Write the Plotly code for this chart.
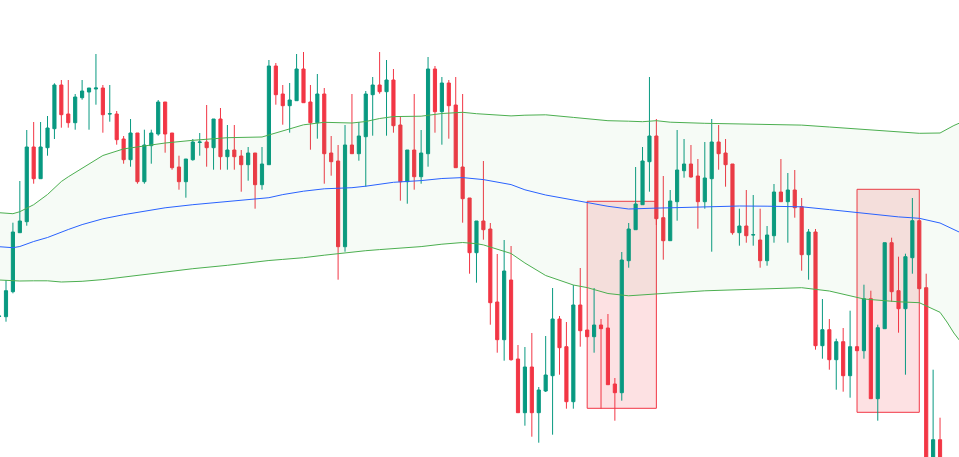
import plotly.graph_objects as go

# candle index -> one bar per slot
candle_idx = list(range(137))

opens = [
    183.5, 183.3, 208.3, 267.3, 278.3, 353, 321.3, 352.3, 371.3, 415,
    386, 377.3, 402.3, 408, 411, 412, 386, 386, 361, 340.3,
    367, 318.3, 354.3, 366, 398, 367, 333, 318.3, 340.3, 357.5,
    358, 352.3, 381, 343.3, 350, 344, 335.3, 347, 315.3, 335.3,
    434, 406, 394.3, 399.3, 431, 398, 377.3, 406, 347, 339,
    253.3, 355, 346.3, 363.3, 405.3, 415, 408.3, 420, 375, 318.3,
    350, 323.3, 346.3, 431, 388.3, 417, 395, 333, 302, 247.3,
    279, 271, 198, 160.3, 220, 141, 87.3, 133, 87.3, 109,
    124.3, 181, 153.3, 98.3, 195, 170, 163.3, 175, 172, 116,
    107.3, 239.3, 270.3, 295.3, 338.3, 364, 282.3, 259.3, 298.3, 329.3,
    336, 324, 298.3, 321.3, 358, 347, 336, 267.3, 274, 265,
    260, 239.3, 264.3, 308, 298.3, 310, 293.3, 245.3, 268, 154.3,
    170.3, 140.3, 158.3, 124.3, 153.3, 149.3, 201.3, 101.3, 171.3, 257.3,
    209.3, 191.3, 242.3, 279.3, 212.3, 30, 60.3,
]
highs = [
    185, 220, 277.3, 319, 370, 378, 378, 384, 416.7, 420,
    420, 406, 420, 412, 446, 415, 415, 389, 364, 381,
    367, 370.3, 370.3, 400, 398, 367, 344.3, 341, 361, 367,
    395, 381, 392, 375, 375, 350, 353, 347, 353, 440,
    437, 415, 417, 446, 448, 415, 426, 412, 364, 355,
    375, 406, 378, 409, 423, 448, 440, 431, 384, 350,
    406, 370, 443, 434, 423, 420, 423, 406, 302, 279,
    339, 277, 246, 260, 254, 155, 153, 167, 113, 164,
    212, 184, 178, 215, 232, 170, 212, 181, 186, 122,
    248, 277, 333, 353, 423, 381, 324, 310, 370, 361,
    355, 341, 358, 381, 375, 361, 336, 291.3, 310, 305,
    291.3, 274, 316, 341, 327, 330, 302, 271, 271, 201,
    181, 161.3, 172, 189.3, 154, 215.3, 209.3, 175.3, 257.3, 262.3,
    243.3, 246.3, 302, 279.3, 226.3, 130.3, 82.3,
]
lows = [
    183, 178.3, 206.7, 267.3, 274.3, 316.3, 321.3, 344.3, 361, 372.3,
    372.3, 370.3, 400.3, 370.3, 395.3, 367.3, 378.3, 355.3, 336.3, 333.3,
    316.3, 316.3, 336.3, 364.3, 347.3, 330.3, 310.3, 302.3, 339.3, 344.3,
    333.3, 330.3, 330.3, 330.3, 330.3, 308.3, 319.3, 291.3, 310.3, 335.3,
    395.3, 375.3, 367.3, 399.3, 397.3, 350.3, 361.3, 316.3, 324.3, 220.3,
    248.3, 346.3, 339.3, 313.3, 364.3, 406.3, 364.3, 367.3, 299.3, 296.3,
    310.3, 316.3, 333.3, 367.3, 355.3, 361.3, 332.3, 277.3, 226.3, 217.3,
    260.3, 175.3, 147.3, 139.3, 139.3, 87.3, 74.3, 63.3, 57.3, 108,
    65.3, 125.3, 91.3, 91.3, 153.3, 163.3, 147.3, 91.3, 115.3, 79.3,
    99.3, 232.3, 270.3, 295.3, 308.3, 275, 240.3, 259.3, 279.3, 322.3,
    322.3, 271.3, 291.3, 248.3, 330.3, 313.3, 265.3, 254.3, 257.3, 254.3,
    232.3, 234.3, 257.3, 298.3, 257.3, 282.3, 229.3, 220.3, 150.3, 141.3,
    130.3, 110.3, 108.3, 102.3, 149, 141.3, 101.3, 79.3, 171.3, 198.3,
    167.3, 125.3, 226.3, 211.3, 25, 25, 15,
]
closes = [
    184, 209.3, 268, 279, 353, 321.3, 353, 372, 415, 385.3,
    377.3, 403, 409, 412, 412, 385.3, 386.3, 360.3, 340.3, 367,
    318.3, 355, 367, 398, 366, 332.3, 318.3, 341, 358, 358,
    352.3, 381, 343.3, 350, 343.3, 335.3, 347, 315.3, 336, 434,
    405.3, 394.3, 400, 431, 397.3, 377.3, 406, 346.3, 338.3, 253.3,
    355, 346.3, 364, 406, 415, 408.3, 420, 374.3, 318.3, 350,
    323.3, 347, 431, 388.3, 417, 394.3, 332.3, 301.3, 247.3, 279,
    270.3, 197.3, 160.3, 229, 140.3, 87.3, 133, 87.3, 110, 125,
    181, 152.3, 98.3, 195, 169.3, 163.3, 175, 171.3, 115.3, 107.3,
    240, 271, 296, 339, 364, 281.3, 259.3, 299, 330, 336,
    323, 298.3, 322, 358, 346.3, 335.3, 267.3, 274, 264.3, 265.3,
    239.3, 265, 308, 298.3, 310, 292.3, 245.3, 268, 154.3, 170.3,
    140.3, 158.3, 124.3, 153.3, 149.3, 201.3, 101.3, 172.3, 257.3, 208.3,
    191.3, 243.3, 279.3, 211.3, 30, 60.3, 20,
]

# bollinger-style bands, sampled at candle indices
band_idx = [
    0, 2, 3, 5, 7, 9, 10, 12, 15, 18, 21, 24, 28, 33, 38, 39, 41, 43, 44, 47,
    51, 53, 55, 57, 61, 64, 67, 69, 70, 74, 76, 79, 83, 85, 88, 91, 93, 95, 97,
    102, 107, 111, 116, 120, 125, 130, 132, 133, 136, 137, 138, 139,
]
band_upper = [
    287.3, 286.3, 288.3, 295.3, 305.5, 318.5, 323.2, 331.7, 344.5, 351.1,
    354, 357, 359.7, 362.3, 363, 365, 368.5, 373, 375.2, 377.7,
    377, 378.5, 381.5, 383.4, 383.8, 386.5, 387.7, 386.3, 385.8, 384.1,
    384.8, 385.2, 382.6, 381.1, 379.3, 378.8, 378.3, 379.3, 377.8,
    376.7, 376.3, 375.9, 374.9, 373, 370.5, 367.8, 367, 366.7, 367, 371, 374.5, 377.5,
]
band_mid = [
    253.3, 252.3, 253.5, 258.5, 262.5, 268, 270.5, 275.4, 281.2, 285.3,
    288.4, 292.2, 295.3, 298.3, 301, 302.3, 305.4, 308.1, 308.8, 311.2,
    312.3, 313.8, 316.1, 317.7, 319.4, 321.5, 322.4, 321.2, 320.4, 315.4,
    310.2, 305, 299.9, 297.3, 293.7, 291, 291.7, 291.9, 292.2,
    293.2, 294, 293.8, 293.2, 290.4, 286.4, 283.1, 282.2, 281.7, 277, 273.5, 270, 267.2,
]
band_lower = [
    220, 219.3, 219, 219.2, 219.2, 218, 218.2, 218.7, 220.4, 223,
    225.2, 228.2, 231.3, 234.7, 239.1, 239.5, 240.6, 241.6, 242.3, 244.8,
    248.2, 249.3, 250.4, 251.3, 253.4, 255.8, 257.5, 256.3, 255.1, 246.5,
    237, 224.5, 215, 212.4, 206.5, 204.2, 204.9, 206, 207,
    209.2, 210.3, 211.1, 212.3, 209, 201, 198.2, 197.8, 197.3, 187.7, 178, 167, 158,
]

# highlighted zones: (start idx, end idx, top, bottom)
zones = [(85, 95, 298.7, 91.7), (124, 133, 310.7, 87.7)]

UP = "#089981"
DOWN = "#F23645"

fig = go.Figure()
fig.add_trace(go.Scatter(
    x=band_idx, y=band_lower, mode="lines",
    line=dict(color="#4CAF50", width=1), hoverinfo="skip",
))
fig.add_trace(go.Scatter(
    x=band_idx, y=band_upper, mode="lines", fill="tonexty",
    fillcolor="rgba(76,175,80,0.05)",
    line=dict(color="#4CAF50", width=1), hoverinfo="skip",
))
fig.add_trace(go.Scatter(
    x=band_idx, y=band_mid, mode="lines",
    line=dict(color="#2962FF", width=1), hoverinfo="skip",
))
fig.add_trace(go.Candlestick(
    x=candle_idx, open=opens, high=highs, low=lows, close=closes,
    increasing=dict(line=dict(color=UP, width=1), fillcolor=UP),
    decreasing=dict(line=dict(color=DOWN, width=1), fillcolor=DOWN),
    whiskerwidth=0,
))

for x0, x1, top, bottom in zones:
    fig.add_shape(
        type="rect", x0=x0, x1=x1, y0=bottom, y1=top, layer="below",
        line=dict(color=DOWN, width=1), fillcolor="rgba(242,54,69,0.15)",
    )

fig.update_layout(
    width=959, height=457,
    margin=dict(l=0, r=0, t=0, b=0),
    paper_bgcolor="white", plot_bgcolor="white",
    showlegend=False, boxgap=0.35,
)
fig.update_xaxes(range=[0.133, 138.74], visible=False, rangeslider_visible=False)
fig.update_yaxes(range=[43, 500], visible=False)

fig.write_html(
    "out.html",
    config={"displayModeBar": False},
    post_script="document.body.style.margin='0';",
)
